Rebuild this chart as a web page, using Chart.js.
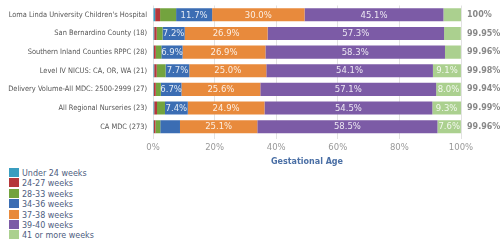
<!DOCTYPE html>
<html lang="en">
  <head>
    <meta charset="UTF-8" />
    <script src="https://cdn.jsdelivr.net/npm/chart.js@4.4.1/dist/chart.umd.min.js"></script>
    <title>Gestational Age</title>
    <style>
      body { margin: 0; background: #fff; }
      #wrap { position: relative; width: 501px; height: 167px; }
      #legend { position: absolute; left: 9px; top: 168px; font: 8px "DejaVu Sans"; color: #4e5d7e; }
      #legend div { height: 10.4px; line-height: 10.4px; white-space: nowrap; }
      #legend span { display: inline-block; width: 10px; height: 9px; margin-right: 3px; vertical-align: -1px; }
    </style>
  </head>
  <body>
    <div id="wrap"><canvas id="chart"></canvas></div>
    <div id="legend"></div>
    <script>
      // hospitals / comparison groups
      const groups = [
        "Loma Linda University Children's Hospital",
        "San Bernardino County (18)",
        "Southern Inland Counties RPPC (28)",
        "Level IV NICUS: CA, OR, WA (21)",
        "Delivery Volume-All MDC: 2500-2999 (27)",
        "All Regional Nurseries (23)",
        "CA MDC (273)",
      ];
      const xTicks = ["0%", "20%", "40%", "60%", "80%", "100%"];

      // percent of births in each gestational age bucket
      const under24 = [0.7, 0.4, 0.3, 0.4, 0.3, 0.4, 0.3];
      const w24to27 = [1.6, 0.8, 0.6, 0.8, 0.6, 0.9, 0.5];
      const w28to33 = [5.2, 1.9, 1.8, 2.88, 1.64, 2.59, 1.56];
      const w34to36 = [11.7, 7.2, 6.9, 7.7, 6.7, 7.4, 6.4];
      const w37to38 = [30.0, 26.9, 26.9, 25.0, 25.6, 24.9, 25.1];
      const w39to40 = [45.1, 57.3, 58.3, 54.1, 57.1, 54.5, 58.5];
      const w41plus = [5.7, 5.45, 5.16, 9.1, 8.0, 9.3, 7.6];

      const series = [
        { label: "Under 24 weeks", data: under24, color: "#3a9dbf" },
        { label: "24-27 weeks", data: w24to27, color: "#b5373a" },
        { label: "28-33 weeks", data: w28to33, color: "#73a33e" },
        { label: "34-36 weeks", data: w34to36, color: "#3b6db3" },
        { label: "37-38 weeks", data: w37to38, color: "#e88a3c" },
        { label: "39-40 weeks", data: w39to40, color: "#7c5ba6" },
        { label: "41 or more weeks", data: w41plus, color: "#abd08f" },
      ];

      // row totals shown on the right
      const totals = groups.map((g, i) => {
        let t = 0;
        series.forEach((s) => (t += s.data[i]));
        t = Math.round(t * 100) / 100;
        return t >= 100 ? "100%" : t.toFixed(2) + "%";
      });

      // simple inline value labels (no datalabels plugin available)
      const barLabels = {
        id: "barLabels",
        afterDatasetsDraw(chart) {
          const ctx = chart.ctx;
          ctx.save();
          ctx.font = "8.5px 'DejaVu Sans'";
          ctx.fillStyle = "rgba(255,255,255,0.85)";
          ctx.textAlign = "center";
          ctx.textBaseline = "middle";
          chart.data.datasets.forEach((ds, di) => {
            chart.getDatasetMeta(di).data.forEach((bar, i) => {
              const v = ds.data[i];
              if (v < 6.5) return;
              const p = bar.getCenterPoint();
              ctx.fillText(v.toFixed(1) + "%", p.x, p.y + 0.5);
            });
          });
          ctx.restore();
        },
      };

      // vertical axes: fixed width, no extra top/bottom padding
      const fitY = (w) => (s) => {
        s.width = w;
        s.paddingTop = 0;
        s.paddingBottom = 0;
      };

      const ctx = document.getElementById("chart").getContext("2d");
      const chart = new Chart(ctx, {
        type: "bar",
        data: {
          labels: groups,
          datasets: series.map((s) => ({
            label: s.label,
            data: s.data,
            backgroundColor: s.color,
            borderWidth: 0,
            barPercentage: 0.7,
            categoryPercentage: 1,
          })),
        },
        options: {
          indexAxis: "y",
          responsive: true,
          maintainAspectRatio: false,
          animation: false,
          layout: { padding: { top: 5.5, left: 0, right: 0, bottom: 0 } },
          plugins: {
            legend: { display: false },
            tooltip: { enabled: false },
          },
          scales: {
            x: {
              stacked: true,
              min: 0,
              max: 100,
              afterFit: (s) => { s.height = 31; },
              grid: { color: "#e2e2e2", drawTicks: true, tickLength: 3, drawOnChartArea: true },
              border: { display: false },
              ticks: {
                stepSize: 20,
                padding: 4,
                color: "#999",
                font: { family: "DejaVu Sans", size: 8.5 },
                callback: (v, i) => xTicks[i],
              },
              title: {
                display: true,
                text: "Gestational Age",
                color: "#4a6fa5",
                font: { family: "DejaVu Sans", size: 8, weight: "bold" },
                padding: { top: 1, bottom: 0 },
              },
            },
            y: {
              stacked: true,
              afterFit: fitY(153),
              grid: { display: false, drawTicks: false },
              border: { display: false },
              ticks: {
                padding: 6,
                color: "#555",
                font: { family: "DejaVu Sans Condensed", size: 7.4 },
              },
            },
            y2: {
              type: "category",
              position: "right",
              labels: totals,
              offset: true,
              afterFit: fitY(40),
              grid: { display: false, drawTicks: false },
              border: { display: false },
              ticks: {
                padding: 6,
                color: "#888",
                font: { family: "DejaVu Sans", size: 8, weight: "bold" },
              },
            },
          },
        },
        plugins: [barLabels],
      });

      // vertical legend under the chart
      const legendEl = document.getElementById("legend");
      series.forEach((s) => {
        const row = document.createElement("div");
        const box = document.createElement("span");
        box.style.background = s.color;
        row.appendChild(box);
        row.appendChild(document.createTextNode(s.label));
        legendEl.appendChild(row);
      });
    </script>
  </body>
</html>
